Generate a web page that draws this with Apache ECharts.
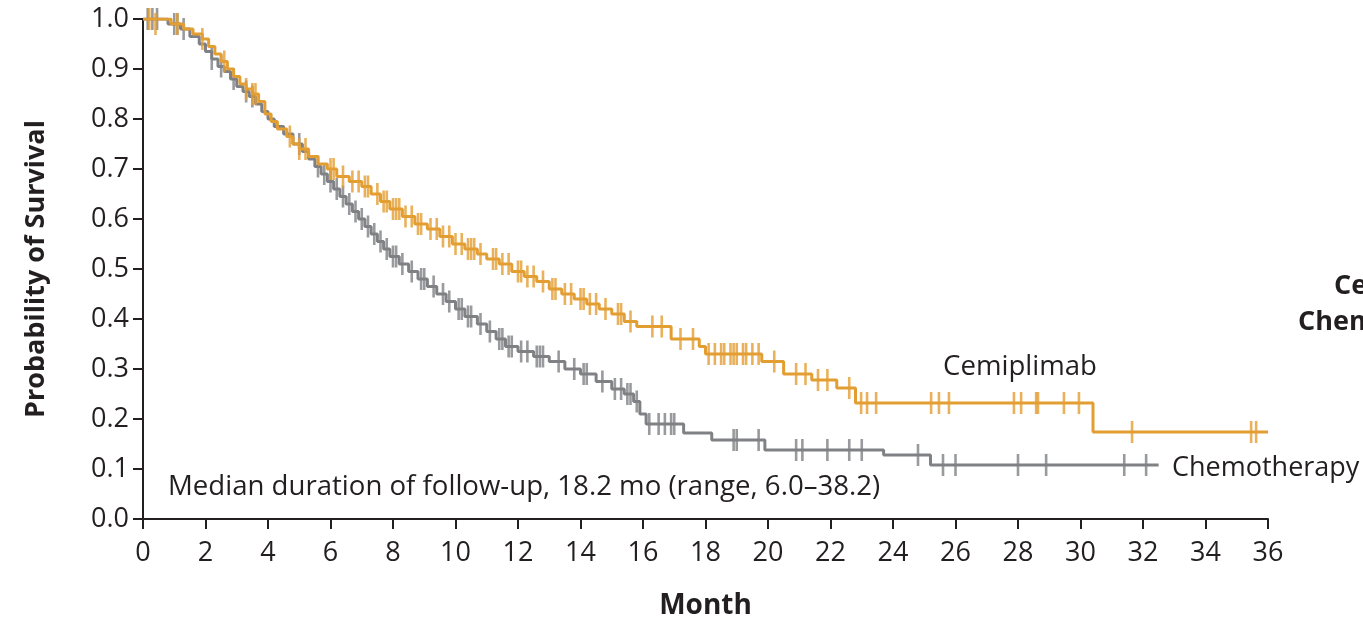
<!DOCTYPE html>
<html><head><meta charset="utf-8">
<script src="https://cdn.jsdelivr.net/npm/echarts@6/dist/echarts.min.js"></script>
<style>html,body{margin:0;padding:0;background:#fff;}#c{width:1363px;height:622px;}</style>
</head><body><div id="c"></div>
<script>
// Kaplan-Meier steps: [month, survival]
var cemiplimabSteps = [
[0,1.0],[0.9,0.99],[1.3,0.98],[1.6,0.97],[1.9,0.96],[2.1,0.945],[2.3,0.93],[2.5,0.915],[2.7,0.90],[2.9,0.885],
[3.1,0.87],[3.3,0.86],[3.5,0.85],[3.7,0.835],[3.9,0.81],[4.1,0.795],[4.3,0.78],[4.6,0.765],[4.8,0.75],[5.0,0.74],
[5.3,0.725],[5.6,0.71],[5.9,0.70],[6.2,0.685],[6.6,0.675],[7.0,0.665],[7.3,0.65],[7.6,0.635],[7.9,0.62],[8.3,0.605],
[8.7,0.59],[9.1,0.58],[9.5,0.565],[9.9,0.55],[10.3,0.54],[10.7,0.53],[11.0,0.52],[11.4,0.51],[11.8,0.495],[12.2,0.485],
[12.6,0.475],[13.0,0.46],[13.4,0.45],[13.8,0.44],[14.2,0.43],[14.6,0.42],[15.0,0.41],[15.4,0.395],[15.8,0.385],
[16.9,0.36],[17.8,0.345],[18.0,0.33],[19.8,0.315],[20.5,0.29],[21.4,0.278],[22.2,0.262],[22.8,0.232],[30.4,0.174],[36.0,0.174]
];
var chemotherapySteps = [
[0,1.0],[0.8,0.99],[1.2,0.98],[1.5,0.965],[1.8,0.95],[2.0,0.935],[2.2,0.92],[2.4,0.905],[2.6,0.895],[2.8,0.88],
[3.0,0.865],[3.2,0.855],[3.4,0.845],[3.6,0.83],[3.8,0.815],[4.0,0.80],[4.2,0.785],[4.5,0.77],[4.8,0.75],[5.1,0.735],
[5.3,0.72],[5.5,0.705],[5.7,0.69],[5.9,0.675],[6.1,0.66],[6.3,0.645],[6.5,0.63],[6.7,0.615],[6.9,0.60],[7.1,0.585],
[7.3,0.57],[7.5,0.555],[7.7,0.54],[7.9,0.525],[8.2,0.51],[8.5,0.495],[8.8,0.48],[9.1,0.465],[9.4,0.45],[9.7,0.435],
[10.0,0.42],[10.3,0.405],[10.7,0.39],[11.0,0.375],[11.3,0.36],[11.6,0.345],[12.0,0.335],[12.5,0.325],[13.0,0.315],
[13.5,0.30],[14.0,0.29],[14.5,0.275],[15.0,0.26],[15.4,0.25],[15.7,0.235],[15.9,0.21],[16.1,0.19],[17.3,0.172],
[18.2,0.158],[19.9,0.138],[23.7,0.128],[25.2,0.108],[32.5,0.108]
];
// Censoring marks: [month, survival]
var cemiplimabCensored = [
[0.2,1.0],[0.4,0.99],[1.1,0.99],[1.9,0.96],[2.6,0.915],[3.3,0.86],[3.5,0.85],[3.6,0.85],[4.7,0.765],[5.0,0.74],[5.2,0.74],
[6.0,0.70],[6.1,0.70],[6.4,0.685],[6.7,0.675],[6.9,0.675],[7.1,0.665],[7.2,0.665],[7.5,0.65],[7.7,0.635],[7.8,0.635],
[8.0,0.62],[8.1,0.62],[8.2,0.62],[8.4,0.605],[8.6,0.605],[8.8,0.59],[8.9,0.59],[9.2,0.58],[9.4,0.58],[9.6,0.565],
[9.8,0.565],[10.0,0.55],[10.2,0.55],[10.4,0.54],[10.5,0.54],[10.6,0.54],[10.8,0.53],[11.2,0.52],[11.3,0.52],[11.5,0.51],
[11.7,0.51],[12.0,0.495],[12.1,0.495],[12.3,0.485],[12.5,0.485],[12.8,0.475],[13.1,0.46],[13.2,0.46],[13.5,0.45],
[13.7,0.45],[14.0,0.44],[14.1,0.44],[14.3,0.43],[14.5,0.43],[14.8,0.42],[15.2,0.41],[15.3,0.41],[15.6,0.395],
[16.3,0.385],[16.6,0.385],[17.2,0.36],[17.6,0.36],[18.1,0.33],[18.3,0.33],
[18.5,0.33],[18.6,0.33],[18.8,0.33],[18.9,0.33],[19.0,0.33],[19.2,0.33],[19.3,0.33],[19.5,0.33],[19.7,0.33],
[20.2,0.315],[20.9,0.29],[21.2,0.29],[21.6,0.278],[21.9,0.278],[22.6,0.262],
[22.98,0.232],[23.17,0.232],[23.46,0.232],[25.22,0.232],[25.47,0.232],[25.79,0.232],[27.87,0.232],[28.1,0.232],
[28.58,0.232],[28.64,0.232],[29.47,0.232],[29.95,0.232],[31.65,0.174],[35.46,0.174],[35.62,0.174]
];
var chemotherapyCensored = [
[0.15,1.0],[0.3,1.0],[0.45,1.0],[1.0,0.99],[1.1,0.99],[1.3,0.98],[2.2,0.92],[2.5,0.905],[2.9,0.88],[3.3,0.855],
[3.5,0.845],[5.0,0.75],[5.6,0.705],[5.8,0.69],[6.0,0.675],[6.2,0.66],[6.4,0.645],[6.6,0.63],[6.8,0.615],[7.0,0.60],
[7.2,0.585],[7.4,0.57],[7.6,0.555],[7.8,0.54],[8.0,0.525],[8.1,0.525],[8.3,0.51],[8.6,0.495],[8.9,0.48],[9.0,0.48],
[9.3,0.465],[9.6,0.45],[9.8,0.435],[10.1,0.42],[10.2,0.42],[10.4,0.405],[10.5,0.405],[10.8,0.39],
[11.1,0.375],[11.4,0.36],[11.5,0.36],[11.7,0.345],[11.8,0.345],[12.1,0.335],[12.3,0.335],[12.6,0.325],[12.7,0.325],
[12.8,0.325],[13.3,0.315],[13.8,0.30],[14.1,0.29],[14.2,0.29],[14.7,0.275],[15.1,0.26],[15.3,0.26],[15.5,0.25],
[15.6,0.25],[15.8,0.235],[16.2,0.19],[16.5,0.19],[16.7,0.19],
[16.9,0.19],[17.0,0.19],[18.9,0.158],[19.0,0.158],[19.7,0.158],[20.9,0.138],[21.1,0.138],[21.9,0.138],[22.6,0.138],
[23.0,0.138],[24.8,0.128],[25.6,0.108],[26.0,0.108],[28.0,0.108],[28.9,0.108],[31.4,0.108],[32.1,0.108]
];
var xTicks = [0,2,4,6,8,10,12,14,16,18,20,22,24,26,28,30,32,34,36];
var yTicks = [0.0,0.1,0.2,0.3,0.4,0.5,0.6,0.7,0.8,0.9,1.0];

var ORANGE = '#E39E32', GRAY = '#808184', INK = '#231f20';
var FONT = '"Open Sans", "Noto Sans", sans-serif';

var chart = echarts.init(document.getElementById('c'));
chart.setOption({
  animation: false,
  backgroundColor: '#fff',
  grid: {left: 143, right: 95, top: 19, bottom: 103, containLabel: false, outerBoundsMode: 'none'},
  xAxis: {
    type: 'value', min: 0, max: 36, interval: 2,
    name: 'Month', nameLocation: 'middle', nameGap: 73,
    nameTextStyle: {fontFamily: FONT, fontWeight: 'bold', fontSize: 28, color: INK},
    axisLine: {show: true, lineStyle: {color: INK, width: 2}},
    axisTick: {show: true, length: 10, lineStyle: {color: INK, width: 2}},
    axisLabel: {fontFamily: FONT, fontSize: 27, color: INK, margin: 21,
      formatter: function (v) { return xTicks.indexOf(v) >= 0 ? String(v) : ''; }},
    splitLine: {show: false}
  },
  yAxis: {
    type: 'value', min: 0, max: 1, interval: 0.1,
    name: 'Probability of Survival', nameLocation: 'middle', nameGap: 93,
    nameTextStyle: {fontFamily: FONT, fontWeight: 'bold', fontSize: 27, color: INK},
    axisLine: {show: true, lineStyle: {color: INK, width: 2}},
    axisTick: {show: true, length: 10, lineStyle: {color: INK, width: 2}},
    axisLabel: {fontFamily: FONT, fontSize: 27, color: INK, margin: 14,
      formatter: function (v) {
        for (var i = 0; i < yTicks.length; i++) { if (Math.abs(yTicks[i] - v) < 1e-6) return yTicks[i].toFixed(1); }
        return '';
      }},
    splitLine: {show: false}
  },
  series: [
    {type: 'line', name: 'Chemotherapy', step: 'end', data: chemotherapySteps, showSymbol: false,
     lineStyle: {color: GRAY, width: 3}, itemStyle: {color: GRAY}, z: 2},
    {type: 'line', name: 'Cemiplimab', step: 'end', data: cemiplimabSteps, showSymbol: false,
     lineStyle: {color: ORANGE, width: 3}, itemStyle: {color: ORANGE}, z: 3},
    {type: 'scatter', data: chemotherapyCensored, symbol: 'rect', symbolSize: [2.6, 22],
     itemStyle: {color: GRAY}, z: 2},
    {type: 'scatter', data: cemiplimabCensored, symbol: 'rect', symbolSize: [2.6, 22],
     itemStyle: {color: ORANGE}, z: 3}
  ],
  graphic: [
    {type: 'text', x: 168, y: 487, style: {text: 'Median duration of follow-up, 18.2 mo (range, 6.0–38.2)',
      font: '27.6px ' + FONT, fill: INK, verticalAlign: 'middle'}},
    {type: 'text', x: 943, y: 367, style: {text: 'Cemiplimab', font: '27.6px ' + FONT, fill: INK, verticalAlign: 'middle'}},
    {type: 'text', x: 1172, y: 468, style: {text: 'Chemotherapy', font: '27px ' + FONT, fill: INK, verticalAlign: 'middle'}},
    {type: 'text', x: 1334, y: 286, style: {text: 'Cemiplimab', font: 'bold 27px ' + FONT, fill: INK, verticalAlign: 'middle'}},
    {type: 'text', x: 1298, y: 322, style: {text: 'Chemotherapy', font: 'bold 27px ' + FONT, fill: INK, verticalAlign: 'middle'}}
  ]
});
</script></body></html>
